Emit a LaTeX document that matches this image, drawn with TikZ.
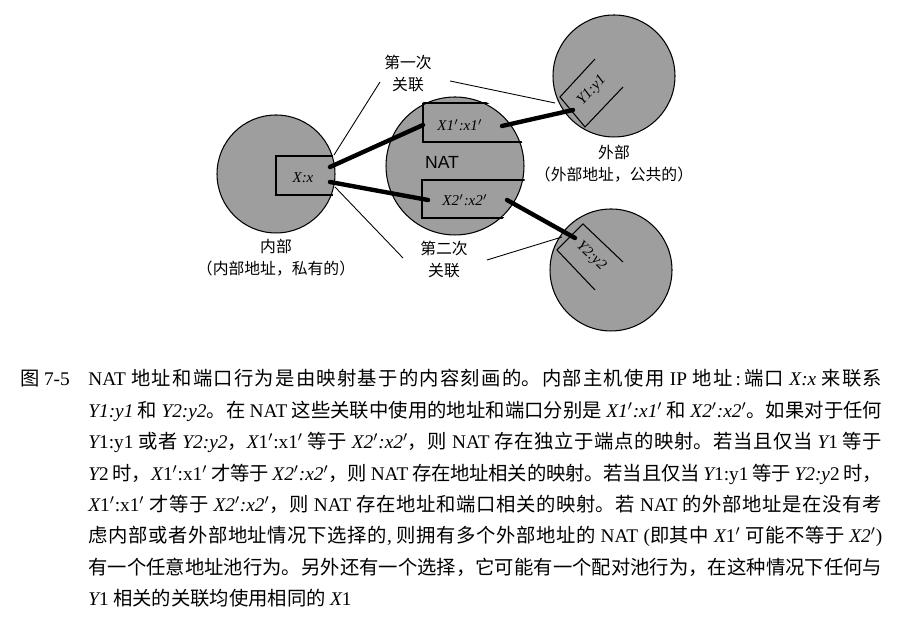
\documentclass[tikz,border=0pt]{standalone}
\usepackage{fontspec}
\setmainfont{Noto Sans CJK SC}
\newfontfamily\lat{Liberation Serif}
\newfontfamily\natfont{Liberation Sans}
\usetikzlibrary{positioning}
\XeTeXlinebreaklocale "zh"
\XeTeXlinebreakskip=0pt plus 1.5pt minus 0.3pt
\newcommand{\en}[1]{{\lat #1}}
\newcommand{\var}[1]{{\lat\itshape #1}}
\newcommand{\prm}{\ensuremath{'}}

\begin{document}
\begin{tikzpicture}[x=0.02cm, y=0.02cm,
    zone/.style={circle, draw, fill=black!38, line width=0.6pt, inner sep=0pt},
    portbox/.style={draw, line width=0.6pt},
    addr/.style={font=\lat\itshape\fontsize{8.5pt}{10pt}\selectfont, inner sep=0pt},
    assoc/.style={line width=2.5pt, line cap=round},
    leader/.style={line width=0.5pt},
    lbl/.style={font=\fontsize{9pt}{12.5pt}\selectfont, align=center, inner sep=0pt},
    captext/.style={font=\fontsize{11pt}{17.9pt}\selectfont, inner sep=0pt}]

  \useasboundingbox (0,0) rectangle (900,621);

  % Hosts
  \node[zone, minimum size=2.36cm] (inner) at (276,447) {};
  \node[zone, minimum size=2.76cm] (nat) at (455,455) {};
  \node[zone, minimum size=2.44cm] (pub1) at (614,545) {};
  \node[zone, minimum size=2.44cm] (pub2) at (611,351) {};

  % Port boxes
  \draw[portbox] (333,465) -- (276,465) -- (276,426) -- (333,426);
  \begin{scope}
    \clip (nat.center) circle (71);
    \draw[portbox] (540,518) -- (423,518) -- (423,479) -- (540,479);
    \draw[portbox] (540,441) -- (422,441) -- (422,403) -- (540,403);
  \end{scope}
  \draw[portbox] (595,562) -- (560,524) -- (585,494) -- (623,534);
  \draw[portbox] (623,359) -- (583,397) -- (557,371) -- (595,331);

  % Addresses
  \node[addr] (xx) at (303,443) {X:x};
  \node[addr] (xa) at (460,496) {X1\prm:x1\prm};
  \node[addr] (xb) at (465,421) {X2\prm:x2\prm};
  \node[addr, rotate=47] (ya) at (592,530) {Y1:y1};
  \node[addr, rotate=-44] (yb) at (591,365) {Y2:y2};
  \node[font=\natfont\fontsize{10pt}{12pt}\selectfont, inner sep=0pt] (natlbl) at (442,459) {NAT};

  % Labels
  \node[lbl, below=0.1cm of inner] (inlbl) {内部\\（内部地址，私有的）};
  \node[lbl, below=0.15cm of pub1] (publbl) {外部\\（外部地址，公共的）};
  \node[lbl] (first) at (408,547) {第一次\\关联};
  \node[lbl] (second) at (444,361) {第二次\\关联};

  % Connector ends
  \coordinate (xx-top) at (334,466);
  \coordinate (xx-bot) at (335,434);
  \coordinate (first-l) at (380,539);
  \coordinate (first-r) at (450,540);
  \coordinate (second-l) at (403,363);
  \coordinate (second-r) at (487,361);
  \coordinate (ya-tip) at (555,518);
  \coordinate (yb-tip) at (562,384);
  \coordinate (xx-a) at (330,454);
  \coordinate (xx-b) at (330,439);
  \coordinate (xa-in) at (423,496);
  \coordinate (xa-out) at (502,495);
  \coordinate (xb-in) at (428,421);
  \coordinate (xb-out) at (507,421);
  \coordinate (ya-in) at (573,511);
  \coordinate (yb-in) at (575,383);

  % Leaders
  \draw[leader] (first-l) -- (xx-top);
  \draw[leader] (first-r) -- (ya-tip);
  \draw[leader] (second-l) -- (xx-bot);
  \draw[leader] (second-r) -- (yb-tip);

  % Associations
  \draw[assoc] (xx-a) -- (xa-in);
  \draw[assoc] (xx-b) -- (xb-in);
  \draw[assoc] (xa-out) -- (ya-in);
  \draw[assoc] (xb-out) -- (yb-in);

  % Caption
  \node[captext, anchor=west] (fignum) at (20,242) {图 \en{7-5}};
  \node[captext, anchor=north west, text width=15.88cm, align=justify] (caption) at (88,252)
    {\en{NAT} 地址和端口行为是由映射基于的内容刻画的。内部主机使用 \en{IP} 地址\,\en{:}\,端口 \var{X:x} 来联系\linebreak
     \var{Y1:y1} 和 \var{Y2:y2}。在 \en{NAT} 这些关联中使用的地址和端口分别是 \var{X1\prm:x1\prm} 和 \var{X2\prm:x2\prm}。如果对于任何\linebreak
     \var{Y}\en{1:y1} 或者 \var{Y2:y2}，\var{X}\en{1\prm:x1\prm} 等于 \var{X2\prm:x2\prm}，则 \en{NAT} 存在独立于端点的映射。若当且仅当 \var{Y}\en{1} 等于\linebreak
     \var{Y}\en{2} 时，\var{X}\en{1\prm:x1\prm} 才等于 \var{X2\prm:x2\prm}，则 \en{NAT} 存在地址相关的映射。若当且仅当 \var{Y}\en{1:y1} 等于 \var{Y2:y}\en{2} 时，\linebreak
     \var{X}\en{1\prm:x1\prm} 才等于 \var{X2\prm:x2\prm}，则 \en{NAT} 存在地址和端口相关的映射。若 \en{NAT} 的外部地址是在没有考\linebreak
     虑内部或者外部地址情况下选择的\en{,} 则拥有多个外部地址的 \en{NAT (}即其中 \var{X}\en{1\prm} 可能不等于 \var{X2\prm}\en{)}\linebreak
     有一个任意地址池行为。另外还有一个选择，它可能有一个配对池行为，在这种情况下任何与\linebreak
     \var{Y}\en{1} 相关的关联均使用相同的 \var{X}\en{1}};
\end{tikzpicture}
\end{document}
